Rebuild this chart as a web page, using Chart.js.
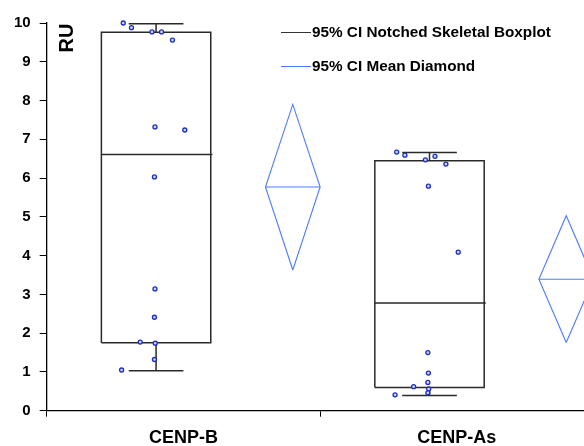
<!DOCTYPE html>
<html>
<head>
<meta charset="utf-8">
<script src="https://cdn.jsdelivr.net/npm/chart.js@4/dist/chart.umd.min.js"></script>
<style>
  html, body { margin: 0; padding: 0; background: #fff; }
  canvas { display: block; }
</style>
</head>
<body>
<canvas id="grafico" width="584" height="446"></canvas>
<script>
// categorias y valores
const categorias = ['CENP-B', 'CENP-As'];
const q1 = [1.75, 0.60];
const mediana = [6.61, 2.78];
const q3 = [9.76, 6.45];
const bigoteBajo = [1.03, 0.39];
const bigoteAlto = [9.98, 6.66];
const media = [5.77, 3.39];
const icBajo = [3.63, 1.76];
const icAlto = [7.90, 5.03];

const puntosB = [10.0, 9.88, 9.77, 9.77, 9.56, 7.32, 7.24, 6.03, 3.14, 2.41, 1.77, 1.74, 1.32, 1.05];
const puntosAs = [6.67, 6.59, 6.47, 6.56, 6.36, 5.79, 4.09, 1.50, 0.97, 0.73, 0.62, 0.56, 0.46, 0.41];
// desplazamiento horizontal (jitter) de cada punto, igual en los dos grupos
const jitter = [-0.12, -0.09, -0.015, 0.02, 0.06, -0.004, 0.105, -0.006, -0.004, -0.006, -0.058, -0.003, -0.006, -0.126];

const yTicks = [0, 1, 2, 3, 4, 5, 6, 7, 8, 9, 10];
const leyenda = ['95% CI Notched Skeletal Boxplot', '95% CI Mean Diamond'];

const FUENTE = "'Liberation Sans', Arial, sans-serif";

function segmentosCaja() {
    let pts = [];
    const corte = c => pts.push({ x: c, y: null });
    for (let i = 0; i < categorias.length; i++) {
        const c = i + 0.4, h = 0.2, cap = 0.1;
        pts.push({ x: c - h, y: q1[i] }, { x: c + h, y: q1[i] }, { x: c + h, y: q3[i] },
                 { x: c - h, y: q3[i] }, { x: c - h, y: q1[i] });
        corte(c);
        pts.push({ x: c - h, y: mediana[i] }, { x: c + h + 0.006, y: mediana[i] });
        corte(c);
        pts.push({ x: c, y: q3[i] }, { x: c, y: bigoteAlto[i] });
        corte(c);
        pts.push({ x: c - cap, y: bigoteAlto[i] }, { x: c + cap, y: bigoteAlto[i] });
        corte(c);
        pts.push({ x: c, y: q1[i] }, { x: c, y: bigoteBajo[i] });
        corte(c);
        pts.push({ x: c - cap, y: bigoteBajo[i] }, { x: c + cap, y: bigoteBajo[i] });
        corte(c);
    }
    return pts;
}

function segmentosDiamante() {
    let pts = [];
    for (let i = 0; i < categorias.length; i++) {
        const c = i + 0.9, h = 0.1;
        pts.push({ x: c, y: icBajo[i] }, { x: c + h, y: media[i] }, { x: c, y: icAlto[i] },
                 { x: c - h, y: media[i] }, { x: c, y: icBajo[i] });
        pts.push({ x: c, y: null });
        pts.push({ x: c - h, y: media[i] }, { x: c + h, y: media[i] });
        pts.push({ x: c, y: null });
    }
    return pts;
}

function puntos() {
    let pts = [];
    [puntosB, puntosAs].forEach((serie, i) => {
        serie.forEach((v, k) => pts.push({ x: i + 0.4 + jitter[k], y: v }));
    });
    return pts;
}

const extras = {
    id: 'extras',
    afterDraw(chart) {
        const ctx = chart.ctx;
        ctx.save();
        // titulo del eje y dentro del area
        ctx.font = 'bold 20px ' + FUENTE;
        ctx.fillStyle = '#000';
        ctx.translate(67, 38);
        ctx.rotate(-Math.PI / 2);
        ctx.textAlign = 'center';
        ctx.textBaseline = 'middle';
        ctx.fillText('RU', 0, 0);
        ctx.restore();

        ctx.save();
        const colores = ['#333', chart.data.datasets[2].borderColor];
        const ys = [32, 66];
        ctx.font = 'bold 15.3px ' + FUENTE;
        ctx.textBaseline = 'middle';
        leyenda.forEach((txt, i) => {
            ctx.strokeStyle = colores[i];
            ctx.lineWidth = 1;
            ctx.beginPath();
            ctx.moveTo(281, ys[i] + 0.5);
            ctx.lineTo(311, ys[i] + 0.5);
            ctx.stroke();
            ctx.fillStyle = '#000';
            ctx.fillText(txt, 312, ys[i] + 1);
        });
        ctx.restore();
    }
};

new Chart(document.getElementById('grafico'), {
    type: 'scatter',
    data: {
        datasets: [
            {
                label: 'datos',
                data: puntos(),
                pointRadius: 2,
                pointBorderWidth: 1.3,
                borderColor: '#1a2ec0',
                backgroundColor: '#d0d6f4',
                clip: false,
                order: 0
            },
            {
                type: 'line',
                label: leyenda[0],
                data: segmentosCaja(),
                borderColor: '#2a2a2a',
                borderWidth: 1.5,
                pointRadius: 0,
                spanGaps: false,
                fill: false,
                clip: false,
                order: 1
            },
            {
                type: 'line',
                label: leyenda[1],
                data: segmentosDiamante(),
                borderColor: '#4d7cff',
                borderWidth: 1.1,
                pointRadius: 0,
                spanGaps: false,
                fill: false,
                clip: false,
                order: 2
            }
        ]
    },
    options: {
        responsive: false,
        animation: false,
        devicePixelRatio: 1,
        layout: { autoPadding: false, padding: { top: 23, right: 0, left: 0, bottom: 0 } },
        plugins: { legend: { display: false }, tooltip: { enabled: false } },
        scales: {
            x: {
                type: 'linear',
                min: 0,
                max: 1.965,
                afterBuildTicks: s => { s.ticks = [0, 0.5, 1, 1.5].map(v => ({ value: v })); },
                afterFit: s => { s.height = 35.3; s.paddingLeft = 0; s.paddingRight = 0; },
                ticks: {
                    autoSkip: false,
                    maxRotation: 0,
                    padding: 11,
                    color: '#000',
                    font: { family: FUENTE, size: 18, weight: 'bold' },
                    callback: v => (v % 1 === 0.5 ? categorias[Math.floor(v)] : '')
                },
                grid: {
                    drawOnChartArea: false,
                    tickLength: 6,
                    tickColor: c => (c.tick && c.tick.value % 1 === 0 ? '#000' : 'rgba(0,0,0,0)')
                },
                border: { color: '#000', width: 1.3 }
            },
            y: {
                min: 0,
                max: 10,
                afterBuildTicks: s => { s.ticks = yTicks.map(v => ({ value: v })); },
                afterFit: s => { s.width = 46.7; s.paddingTop = 0; s.paddingBottom = 0; },
                ticks: {
                    padding: 9,
                    color: '#000',
                    font: { family: FUENTE, size: 15, weight: 'bold' }
                },
                grid: { drawOnChartArea: false, tickLength: 7, tickColor: '#000' },
                border: { color: '#000', width: 1.3 }
            }
        }
    },
    plugins: [extras]
});
</script>
</body>
</html>
